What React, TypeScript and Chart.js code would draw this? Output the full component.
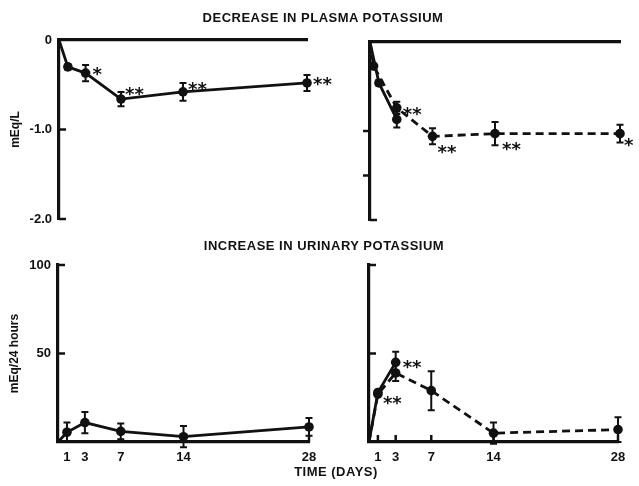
import React, { useEffect, useRef } from "react";
import { Chart, registerables } from "chart.js";

Chart.register(...registerables);

// ---------- DATA ----------
const xTickDays = [1, 3, 7, 14, 28];
const plasmaTicks = [0, -1, -2];
const urineTicks = [50, 100];

// Plasma potassium, left panel (solid)
const plasmaLeftDays = [0, 1, 3, 7, 14, 28];
const plasmaLeftValues = [0, -0.3, -0.37, -0.66, -0.58, -0.48];
const plasmaLeftErrors = [0, 0.03, 0.09, 0.08, 0.1, 0.09];
const plasmaLeftStars = ["", "", "*", "**", "**", "**"];

// Plasma potassium, right panel
const plasmaRightSolidDays = [0, 1, 3];
const plasmaRightSolidValues = [0, -0.46, -0.87];
const plasmaRightSolidErrors = [0, 0.03, 0.09];
const plasmaRightSolidStars = ["", "", ""];

const plasmaRightDashedDays = [0, 0.4, 3, 7, 14, 28];
const plasmaRightDashedValues = [0, -0.27, -0.74, -1.06, -1.03, -1.03];
const plasmaRightDashedErrors = [0, 0.02, 0.07, 0.09, 0.13, 0.1];
const plasmaRightDashedStars = ["", "", "**", "**", "**", "*"];

// Urinary potassium, left panel (solid)
const urineLeftDays = [0, 1, 3, 7, 14, 28];
const urineLeftValues = [0, 5.5, 11, 6, 3, 8.5];
const urineLeftErrors = [0, 5.5, 6, 4.5, 6, 5];
const urineLeftStars = ["", "", "", "", "", ""];

// Urinary potassium, right panel
const urineRightSolidDays = [0, 1, 3];
const urineRightSolidValues = [0, 28, 45];
const urineRightSolidErrors = [0, 0, 6];
const urineRightSolidStars = ["", "**", "**"];

const urineRightDashedDays = [0, 1, 3, 7, 14, 28];
const urineRightDashedValues = [0, 27, 39, 29, 5, 7];
const urineRightDashedErrors = [0, 0, 4.5, 11, 6, 7];
const urineRightDashedStars = ["", "", "", "", "", ""];

// ---------- STYLE / LAYOUT ----------
const W = 639;
const H = 486;
const INK = "#111";
const FONT = "'Liberation Sans', Arial, sans-serif";

type Series = {
  days: number[];
  values: number[];
  errors: number[];
  stars: string[];
  starOffsets: number[][];
  dashed: boolean;
};

type Panel = {
  area: { left: number; top: number; right: number; bottom: number };
  yMin: number;
  yMax: number;
  yTicks: number[];
  showYLabels: boolean;
  yTitle: string;
  xPos: "top" | "bottom";
  showXLabels: boolean;
  yMarks: { v: number; dir: number }[];
  xMarks: number[];
  series: Series[];
};

const mk = (
  days: number[],
  values: number[],
  errors: number[],
  stars: string[],
  starOffsets: number[][],
  dashed: boolean
): Series => ({ days, values, errors, stars, starOffsets, dashed });

const panels: Panel[] = [
  {
    area: { left: 59, top: 40, right: 307, bottom: 219 },
    yMin: -2,
    yMax: 0,
    yTicks: plasmaTicks,
    showYLabels: true,
    yTitle: "mEq/L",
    xPos: "top",
    showXLabels: false,
    yMarks: [
      { v: -1, dir: 1 },
      { v: -2, dir: 1 },
    ],
    xMarks: [],
    series: [
      mk(plasmaLeftDays, plasmaLeftValues, plasmaLeftErrors, plasmaLeftStars,
        [[0, 0], [0, 0], [7, -4], [4, -10], [5, -8], [6, -4]], false),
    ],
  },
  {
    area: { left: 370, top: 42, right: 620, bottom: 220 },
    yMin: -2,
    yMax: 0,
    yTicks: plasmaTicks,
    showYLabels: false,
    yTitle: "",
    xPos: "top",
    showXLabels: false,
    yMarks: [
      { v: -1, dir: -1 },
      { v: -1.5, dir: -1 },
      { v: -2, dir: 1 },
    ],
    xMarks: [],
    series: [
      mk(plasmaRightSolidDays, plasmaRightSolidValues, plasmaRightSolidErrors, plasmaRightSolidStars,
        [[0, 0], [0, 0], [0, 0]], false),
      mk(plasmaRightDashedDays, plasmaRightDashedValues, plasmaRightDashedErrors, plasmaRightDashedStars,
        [[0, 0], [0, 0], [6, 2], [5, 11], [7, 11], [4, 7]], true),
    ],
  },
  {
    area: { left: 58, top: 265, right: 309, bottom: 442 },
    yMin: 0,
    yMax: 100,
    yTicks: urineTicks,
    showYLabels: true,
    yTitle: "mEq/24 hours",
    xPos: "bottom",
    showXLabels: true,
    yMarks: [
      { v: 50, dir: 1 },
      { v: 100, dir: 1 },
    ],
    xMarks: [28],
    series: [
      mk(urineLeftDays, urineLeftValues, urineLeftErrors, urineLeftStars,
        [[0, 0], [0, 0], [0, 0], [0, 0], [0, 0], [0, 0]], false),
    ],
  },
  {
    area: { left: 369, top: 265, right: 618, bottom: 442 },
    yMin: 0,
    yMax: 100,
    yTicks: urineTicks,
    showYLabels: false,
    yTitle: "",
    xPos: "bottom",
    showXLabels: true,
    yMarks: [
      { v: 50, dir: 1 },
      { v: 100, dir: 1 },
    ],
    xMarks: [1, 3, 7, 14, 28],
    series: [
      mk(urineRightSolidDays, urineRightSolidValues, urineRightSolidErrors, urineRightSolidStars,
        [[0, 0], [5, 6], [7, 0]], false),
      mk(urineRightDashedDays, urineRightDashedValues, urineRightDashedErrors, urineRightDashedStars,
        [[0, 0], [0, 0], [0, 0], [0, 0], [0, 0], [0, 0]], true),
    ],
  },
];

const Y_AXIS_W = 55;
const X_AXIS_H = 30;

const decorPlugin = {
  id: "decor",
  afterDatasetsDraw(chart: any, _args: any, opts: any) {
    const panel: Panel = opts.panel;
    const ctx = chart.ctx;
    const xs = chart.scales.x;
    const ys = chart.scales.y;
    const ca = chart.chartArea;
    ctx.save();
    ctx.strokeStyle = INK;
    ctx.fillStyle = INK;
    ctx.lineWidth = 2;
    ctx.lineCap = "butt";
    // error bars
    panel.series.forEach((s, si) => {
      const meta = chart.getDatasetMeta(si);
      s.values.forEach((v, i) => {
        const e = s.errors[i];
        if (!e) return;
        const px = meta.data[i].x;
        const y1 = ys.getPixelForValue(v + e);
        const y2 = ys.getPixelForValue(v - e);
        ctx.beginPath();
        ctx.moveTo(px, y1);
        ctx.lineTo(px, y2);
        ctx.moveTo(px - 3.5, y1);
        ctx.lineTo(px + 3.5, y1);
        ctx.moveTo(px - 3.5, y2);
        ctx.lineTo(px + 3.5, y2);
        ctx.stroke();
      });
    });
    // significance stars
    const fs = 18;
    ctx.font = `bold ${fs}px 'DejaVu Sans', sans-serif`;
    ctx.textAlign = "left";
    ctx.textBaseline = "alphabetic";
    panel.series.forEach((s, si) => {
      const meta = chart.getDatasetMeta(si);
      s.stars.forEach((st, i) => {
        if (!st) return;
        const p = meta.data[i];
        const [dx, dy] = s.starOffsets[i];
        ctx.fillText(st, p.x + dx, p.y + dy + 0.59 * fs);
      });
    });
    // inward tick marks
    ctx.lineWidth = 2.5;
    panel.yMarks.forEach((m) => {
      const y = ys.getPixelForValue(m.v);
      ctx.beginPath();
      ctx.moveTo(ca.left, y);
      ctx.lineTo(ca.left + m.dir * 7, y);
      ctx.stroke();
    });
    panel.xMarks.forEach((d) => {
      const x = xs.getPixelForValue(d);
      ctx.beginPath();
      ctx.moveTo(x, ca.bottom);
      ctx.lineTo(x, ca.bottom - 7);
      ctx.stroke();
    });
    ctx.restore();
  },
};

function PanelChart({ panel }: { panel: Panel }) {
  const ref = useRef<HTMLCanvasElement | null>(null);
  useEffect(() => {
    if (!ref.current) return;
    const a = panel.area;
    const chart = new Chart(ref.current, {
      type: "line",
      data: {
        datasets: panel.series.map((s) => ({
          data: s.days.map((d, i) => ({ x: d, y: s.values[i] })),
          borderColor: INK,
          backgroundColor: INK,
          borderWidth: 2.8,
          borderDash: s.dashed ? [8, 5] : [],
          pointRadius: s.days.map((d) => (d === 0 ? 0 : 4.8)),
          pointBackgroundColor: INK,
          pointBorderWidth: 0,
          tension: 0,
          clip: false as any,
        })),
      },
      options: {
        responsive: false,
        animation: false,
        devicePixelRatio: 1,
        events: [],
        layout: {
          autoPadding: false,
          padding: {
            left: a.left - Y_AXIS_W,
            top: a.top,
            right: W - a.right,
            bottom: H - a.bottom - (panel.xPos === "bottom" ? X_AXIS_H : 0),
          },
        },
        plugins: {
          legend: { display: false },
          tooltip: { enabled: false },
          decor: { panel },
        } as any,
        scales: {
          x: {
            type: "linear",
            min: 0,
            max: 28,
            position: panel.xPos,
            grid: { display: false, drawTicks: false },
            border: { display: true, width: 3.2, color: INK },
            ticks: {
              display: panel.showXLabels,
              color: INK,
              font: { family: FONT, size: 13, weight: "bold" },
              padding: 8,
              autoSkip: false,
              maxRotation: 0,
              callback: (v: any) => String(v),
            },
            afterBuildTicks: (s: any) => {
              s.ticks = xTickDays.map((v) => ({ value: v }));
            },
            afterFit: (s: any) => {
              s.height = panel.xPos === "bottom" ? X_AXIS_H : 0;
            },
          },
          y: {
            type: "linear",
            min: panel.yMin,
            max: panel.yMax,
            grid: { display: false, drawTicks: false },
            border: { display: true, width: 3.2, color: INK },
            ticks: {
              display: panel.showYLabels,
              color: INK,
              font: { family: FONT, size: 13, weight: "bold" },
              padding: 7,
              callback: (v: any) =>
                panel.yMin < 0 ? (v === 0 ? "0" : Number(v).toFixed(1)) : String(v),
            },
            title: {
              display: !!panel.yTitle,
              text: panel.yTitle,
              color: INK,
              font: { family: FONT, size: 12, weight: "bold" },
              padding: { top: 4, bottom: 4 },
            },
            afterBuildTicks: (s: any) => {
              s.ticks = panel.yTicks.map((v) => ({ value: v }));
            },
            afterFit: (s: any) => {
              s.width = Y_AXIS_W;
            },
          },
        } as any,
      },
      plugins: [decorPlugin as any],
    });
    return () => chart.destroy();
  }, [panel]);
  return (
    <canvas
      ref={ref}
      width={W}
      height={H}
      style={{ position: "absolute", left: 0, top: 0, width: W, height: H }}
    />
  );
}

const labelStyle = (cx: number, top: number): React.CSSProperties => ({
  position: "absolute",
  left: cx,
  top,
  transform: "translateX(-50%)",
  whiteSpace: "nowrap",
  font: `bold 13px ${FONT}`,
  letterSpacing: "0.5px",
  lineHeight: "16px",
  color: INK,
});

export default function App() {
  return (
    <div
      style={{
        position: "absolute",
        left: 0,
        top: 0,
        width: W,
        height: H,
        background: "#fff",
        overflow: "hidden",
      }}
    >
      {panels.map((p, i) => (
        <PanelChart key={i} panel={p} />
      ))}
      <div style={labelStyle(323, 10)}>DECREASE IN PLASMA POTASSIUM</div>
      <div style={labelStyle(324, 238)}>INCREASE IN URINARY POTASSIUM</div>
      <div style={labelStyle(336, 464)}>TIME (DAYS)</div>
    </div>
  );
}
